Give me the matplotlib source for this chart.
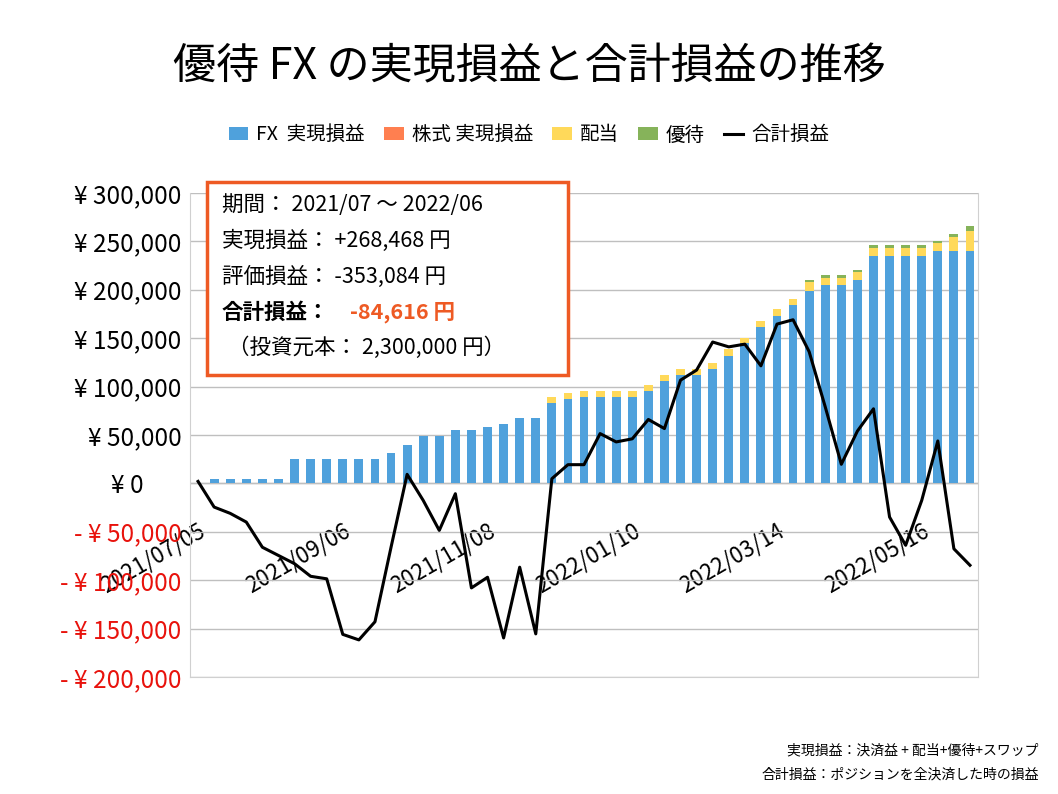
import numpy as np
import matplotlib
matplotlib.use("Agg")
import matplotlib.pyplot as plt
from matplotlib.patches import Rectangle

plt.rcParams['font.family'] = ['Noto Sans CJK JP', 'DejaVu Sans']

# weekly data, 2021/07/05 .. 2022/06/06
dates = ['2021/07/05', '2021/09/06', '2021/11/08', '2022/01/10', '2022/03/14', '2022/05/16']
label_idx = [0, 9, 18, 27, 36, 45]

fx = [0, 5000, 5000, 5000, 5000, 5000, 25000, 25000, 25000, 25000, 25000, 25000,
      31000, 40000, 49000, 49000, 55000, 55000, 58000, 61000, 67000, 67000, 83000, 87000,
      89000, 89000, 89000, 89000, 95500, 105500, 111700, 111700, 118000, 131700, 144500, 161700,
      173000, 184000, 199000, 204500, 204500, 210000, 235000, 235000, 235000, 235000, 240000, 240000,
      240000]
stock = [0] * 49
total_div = [0, 0, 0, 0, 0, 0, 0, 0, 0, 0, 0, 0,
             0, 0, 0, 0, 0, 0, 0, 0, 0, 0, 89000, 93400,
             95500, 95500, 95500, 95500, 101400, 111700, 117900, 117900, 124500, 139000, 149700, 168000,
             179700, 190700, 207600, 212400, 212400, 218000, 243400, 243400, 243400, 243400, 248000, 254800,
             261000]
dividend = [max(t - f, 0) for t, f in zip(total_div, fx)]
yutai = [0] * 38 + [2400, 2400, 2400, 2000, 2500, 2500, 2500, 2500, 2300, 2800, 4900]
total = [2000, -24500, -31000, -40000, -66000, -74500, -83000, -96000, -98600, -156000, -161700, -143000,
         -66000, 9300, -17600, -48600, -10700, -108000, -97000, -159700, -86600, -155500, 4800, 19300,
         19300, 51400, 42800, 46000, 66000, 56600, 106600, 117000, 146000, 141000, 143800, 121400,
         164500, 169000, 136000, 79000, 19700, 54000, 77000, -34800, -64000, -17600, 43800, -67600,
         -84616]

c_fx = '#4FA1DC'
c_stock = '#FF7F50'
c_div = '#FFD95A'
c_yutai = '#86B35A'

fig = plt.figure(figsize=(10.58, 7.94), dpi=100)
ax = fig.add_axes([0.1796, 0.1474, 0.7448, 0.6096])

x = np.arange(len(fx))
w = 0.55
fx_a = np.array(fx)
st_a = np.array(stock)
dv_a = np.array(dividend)
yt_a = np.array(yutai)
ax.bar(x, fx_a, w, color=c_fx, label='FX  実現損益', zorder=2)
ax.bar(x, st_a, w, bottom=fx_a, color=c_stock, label='株式 実現損益', zorder=2)
ax.bar(x, dv_a, w, bottom=fx_a + st_a, color=c_div, label='配当', zorder=2)
ax.bar(x, yt_a, w, bottom=fx_a + st_a + dv_a, color=c_yutai, label='優待', zorder=2)
ax.plot(x, total, color='black', lw=2.2, label='合計損益', zorder=3)

ax.set_xlim(-0.5, len(fx) - 0.5)
ax.set_ylim(-200000, 300000)
yt = np.arange(-200000, 300001, 50000)
ax.set_yticks(yt)
labels = []
for v in yt:
    if v == 0:
        labels.append('¥ 0       ')
    elif v > 0:
        labels.append('¥ {:,}'.format(v))
    else:
        labels.append('- ¥ {:,}'.format(-v))
ax.set_yticklabels(labels, fontsize=17.5)
for t, v in zip(ax.get_yticklabels(), yt):
    if v < 0:
        t.set_color('#E8120C')
ax.tick_params(axis='y', length=0, pad=6)
ax.grid(axis='y', color='#BFBFBF', lw=1, zorder=0)
ax.axhline(0, color='#BFBFBF', lw=1, zorder=1)

ax.set_xticks(x, minor=True)
ax.set_xticks(label_idx)
ax.set_xticklabels(dates, rotation=30, ha='right', rotation_mode='anchor', fontsize=16)
ax.tick_params(axis='x', which='both', length=0)
for lab in ax.get_xticklabels():
    lab.set_y(0.335)
for s in ax.spines.values():
    s.set_color('#D0D0D0')
ax.spines['top'].set_visible(False)

fig.text(0.5, 0.915, '優待 FX の実現損益と合計損益の推移', ha='center', va='center', fontsize=31)
h, l = ax.get_legend_handles_labels()
order = [1, 2, 3, 4, 0]
fig.legend([h[i] for i in order], [l[i] for i in order], loc='center', bbox_to_anchor=(0.5, 0.83),
           ncol=5, frameon=False, fontsize=14, handlelength=1.0, handletextpad=0.4, columnspacing=1.0)

box = Rectangle((207 / 1058, 1 - 375 / 794), 361 / 1058, 193 / 794, transform=fig.transFigure,
                facecolor='white', edgecolor='#EE5A24', lw=2.5, zorder=5)
fig.patches.append(box)
tx = 222 / 1058
lines = [(205, '期間： 2021/07 ～ 2022/06'), (241, '実現損益： +268,468 円'),
         (277, '評価損益： -353,084 円')]
for yy, s in lines:
    fig.text(tx, 1 - yy / 794, s, fontsize=15.5, va='center', zorder=6)
fig.text(tx, 1 - 312 / 794, '合計損益：', fontsize=15.5, fontweight='bold', va='center', zorder=6)
fig.text(350 / 1058, 1 - 312 / 794, '-84,616 円', fontsize=15.5, fontweight='bold', color='#EE5A24',
         va='center', zorder=6)
fig.text(228 / 1058, 1 - 348 / 794, '（投資元本： 2,300,000 円）', fontsize=15.5, va='center', zorder=6)

fig.text(0.982, 1 - 750 / 794, '実現損益：決済益 + 配当+優待+スワップ', ha='right', va='center', fontsize=10)
fig.text(0.982, 1 - 775 / 794, '合計損益：ポジションを全決済した時の損益', ha='right', va='center', fontsize=10)

fig.savefig('out.png', dpi=100)
